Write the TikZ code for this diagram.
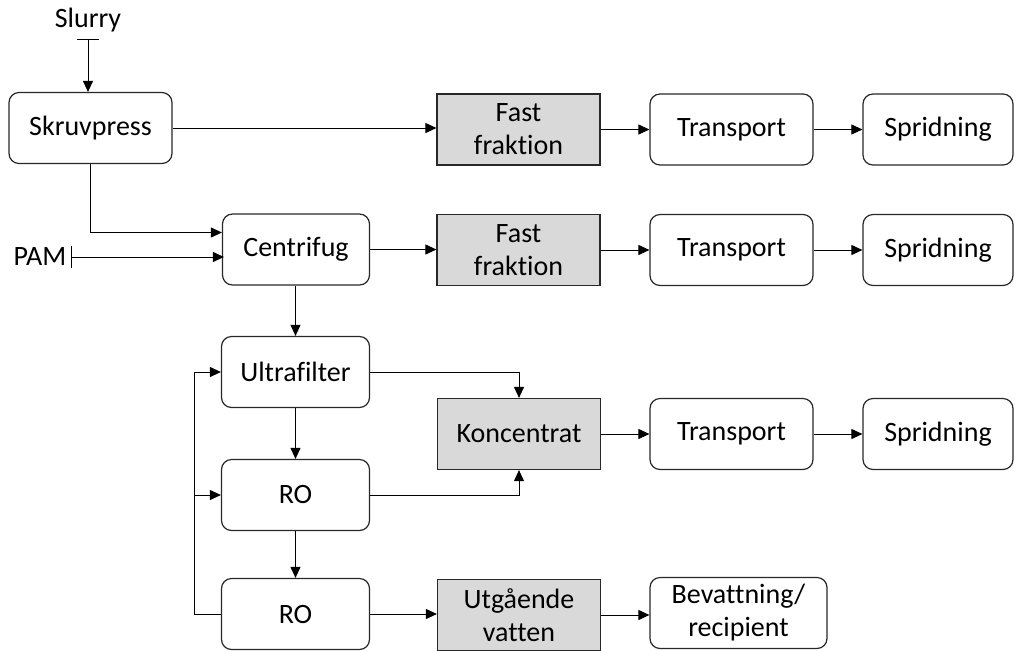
\documentclass[tikz,border=0pt]{standalone}
\usepackage{fontspec}
\setmainfont{Carlito}[Ligatures=NoCommon]
\usetikzlibrary{arrows.meta}
\definecolor{boxgray}{RGB}{217,217,217}
\definecolor{linegray}{RGB}{40,40,40}

\begin{document}
\begin{tikzpicture}[x=0.5pt, y=-0.5pt,
    >={Triangle[length=5.5pt,width=5pt]},
    font=\fontsize{14}{16.5}\selectfont,
    procbox/.style={draw=linegray, line width=0.6pt, rounded corners=5pt,
      align=center, minimum height=35.5pt, inner sep=1pt},
    prodbox/.style={draw=linegray, line width=0.6pt, fill=boxgray,
      align=center, minimum height=35.5pt, minimum width=81.5pt, inner sep=1pt},
    flow/.style={->, line width=0.5pt, draw=black}]
  \useasboundingbox (0,0) rectangle (1019,650);
  % inputs
  \node (slurry) at (88,20) {Slurry};
  \node[inner xsep=1pt] (pam) at (40,257) {PAM};
  % process column
  \node[procbox, minimum width=81.5pt] (skruv) at (90.5,128) {Skruvpress};
  \node[procbox, minimum width=73.5pt] (centri) at (296,249.5) {Centrifug};
  \node[procbox, minimum width=74pt] (uf) at (295.5,372) {Ultrafilter};
  \node[procbox, minimum width=74pt] (ro1) at (295.5,495) {RO};
  \node[procbox, minimum width=74pt] (ro2) at (295.5,614) {RO};
  % products
  \node[prodbox] (fast1) at (518.5,129.5) {Fast\\fraktion};
  \node[prodbox] (fast2) at (518.5,250) {Fast\\fraktion};
  \node[prodbox] (konc) at (519,434) {Koncentrat};
  \node[prodbox] (utg) at (519,615) {Utgående\\vatten};
  % handling
  \foreach \row/\yy/\src in {1/129.5/fast1, 2/250/fast2, 3/434/konc}{
    \node[procbox, minimum width=81.5pt] (trans\row) at (731.5,\yy) {Transport};
    \node[procbox, minimum width=75pt] (sprid\row) at (938,\yy) {Spridning};
    \draw[flow] (\src) -- (trans\row);
    \draw[flow] (trans\row) -- (sprid\row);
  }
  \node[procbox, minimum width=88.5pt] (bev) at (738.5,613) {Bevattning/\\recipient};
  % connectors
  \draw[flow, {Bar[width=11pt,line width=0.7pt,sep=0pt]}-{Triangle[length=5.5pt,width=5pt]}]
    (slurry.south) -- (slurry.south |- skruv.north);
  \draw[flow] (skruv.east) -- (skruv.east -| fast1.west);
  \draw[flow] (skruv.south) |- ([yshift=8.5pt]centri.west);
  \draw[flow, {Bar[width=11pt,line width=0.7pt,sep=0pt]}-{Triangle[length=5.5pt,width=5pt]}]
    ([xshift=1pt]pam.east) -- ([xshift=1pt]pam.east -| centri.west);
  \draw[flow] (centri.east) -- (centri.east -| fast2.west);
  \draw[flow] (centri.south -| uf.north) -- (uf.north);
  \draw[flow] (uf) -- (ro1);
  \draw[flow] (ro1) -- (ro2);
  \draw[flow] (uf.east) -| (konc.north);
  \draw[flow] (ro1.east) -| (konc.south);
  \draw[flow] (ro2.east) -- (ro2.east -| utg.west);
  \draw[flow] (utg.east) -- (utg.east -| bev.west);
  % recirculation
  \coordinate (back) at (194,372);
  \draw[flow] (ro2.west) -| (back) -- (uf.west);
  \draw[flow] (back |- ro1.west) -- (ro1.west);
\end{tikzpicture}
\end{document}
